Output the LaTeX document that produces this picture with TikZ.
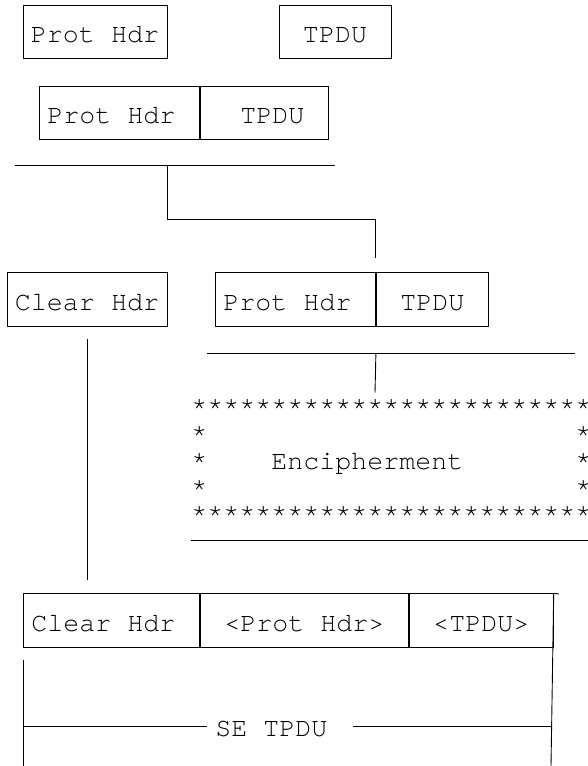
\documentclass[tikz,border=0pt]{standalone}
\usepackage{fontspec}
\newfontfamily\asciifont{texgyrecursor-regular.otf}
\begin{document}
\begin{tikzpicture}[x=1pt,y=-1pt,line width=0.9pt,
    every node/.style={font=\asciifont\fontsize{26.67}{26.67}\selectfont, inner sep=0pt},
    field/.style={draw, minimum height=53.3pt, text height=21.4pt, text depth=0pt},
    plain/.style={anchor=base west}]
\useasboundingbox (0,0) rectangle (588,766);
% header and TPDU apart
\node[field, minimum width=144pt] (hdrA) at (95,32.2) {Prot Hdr};
\node[field, minimum width=112pt] (tpduA) at (335,32.2) {TPDU};
% joined
\node[field, minimum width=160pt, anchor=west] (hdrB) at (39,112.7) {Prot Hdr\hphantom{x}};
\node[field, minimum width=128pt, anchor=west] (tpduB) at (hdrB.east) {\hphantom{x}TPDU};
\coordinate (barBl) at (15,165.7);
\coordinate (barBr) at (335,165.7);
\draw (barBl) -- (barBr);
\coordinate (dropB) at (167,165.7);
\coordinate (bendB) at (167,219);
\coordinate (endB) at (375,258);
\draw (dropB) -- (bendB) -| (endB);
% clear header split off
\node[field, minimum width=160pt] (clearC) at (87,299.3) {Clear Hdr};
\node[field, minimum width=160pt, anchor=west] (hdrC) at (215,299.3) {Prot Hdr\hphantom{x}};
\node[field, minimum width=112pt, anchor=west] (tpduC) at (hdrC.east) {TPDU};
\coordinate (clearTop) at (87,339.3);
\coordinate (clearBot) at (87,580);
\draw (clearTop) -- (clearBot);
\coordinate (barCl) at (207,353.3);
\coordinate (barCr) at (575,353.3);
\draw (barCl) -- (barCr);
\coordinate (dropC) at (tpduC.west |- barCl);
\coordinate (encTop) at (375,392.7);
\draw (dropC) -- (encTop);
% encipherment box of stars
\node[plain] (starsTop) at (191,415.3) {*************************};
\node[plain] (starL1) at (191,442) {*};
\node[plain] (starR1) at (575,442) {*};
\node[plain] (starL2) at (191,469.3) {*};
\node[plain] (enc) at (271,469.3) {Encipherment};
\node[plain] (starR2) at (575,469.3) {*};
\node[plain] (starL3) at (191,496) {*};
\node[plain] (starR3) at (575,496) {*};
\node[plain] (starsBot) at (191,522) {*************************};
\coordinate (barDl) at (191,540);
\coordinate (barDr) at (600,540);
\draw (barDl) -- (barDr);
% SE TPDU
\node[field, minimum width=176pt, anchor=west] (clearE) at (23,620.3) {Clear Hdr\hphantom{x}};
\node[field, minimum width=208pt, anchor=west] (hdrE) at (clearE.east) {<Prot Hdr>};
\node[field, minimum width=144pt, anchor=west] (tpduE) at (hdrE.east) {<TPDU>};
\coordinate (capE) at (559,594);
\coordinate (rightEnd) at (551,766);
\draw (tpduE.north east) -- (capE);
\draw (tpduE.north east) -- (rightEnd);
\coordinate (leftTop) at (23,660);
\coordinate (leftEnd) at (23,766);
\draw (leftTop) -- (leftEnd);
\node[plain] (seTpdu) at (215,736) {SE TPDU};
\coordinate (dimL) at (23,726.7);
\coordinate (dimR) at (551,726.7);
\draw (dimL) -- (207,726.7);
\draw (353,726.7) -- (dimR);
\end{tikzpicture}
\end{document}
